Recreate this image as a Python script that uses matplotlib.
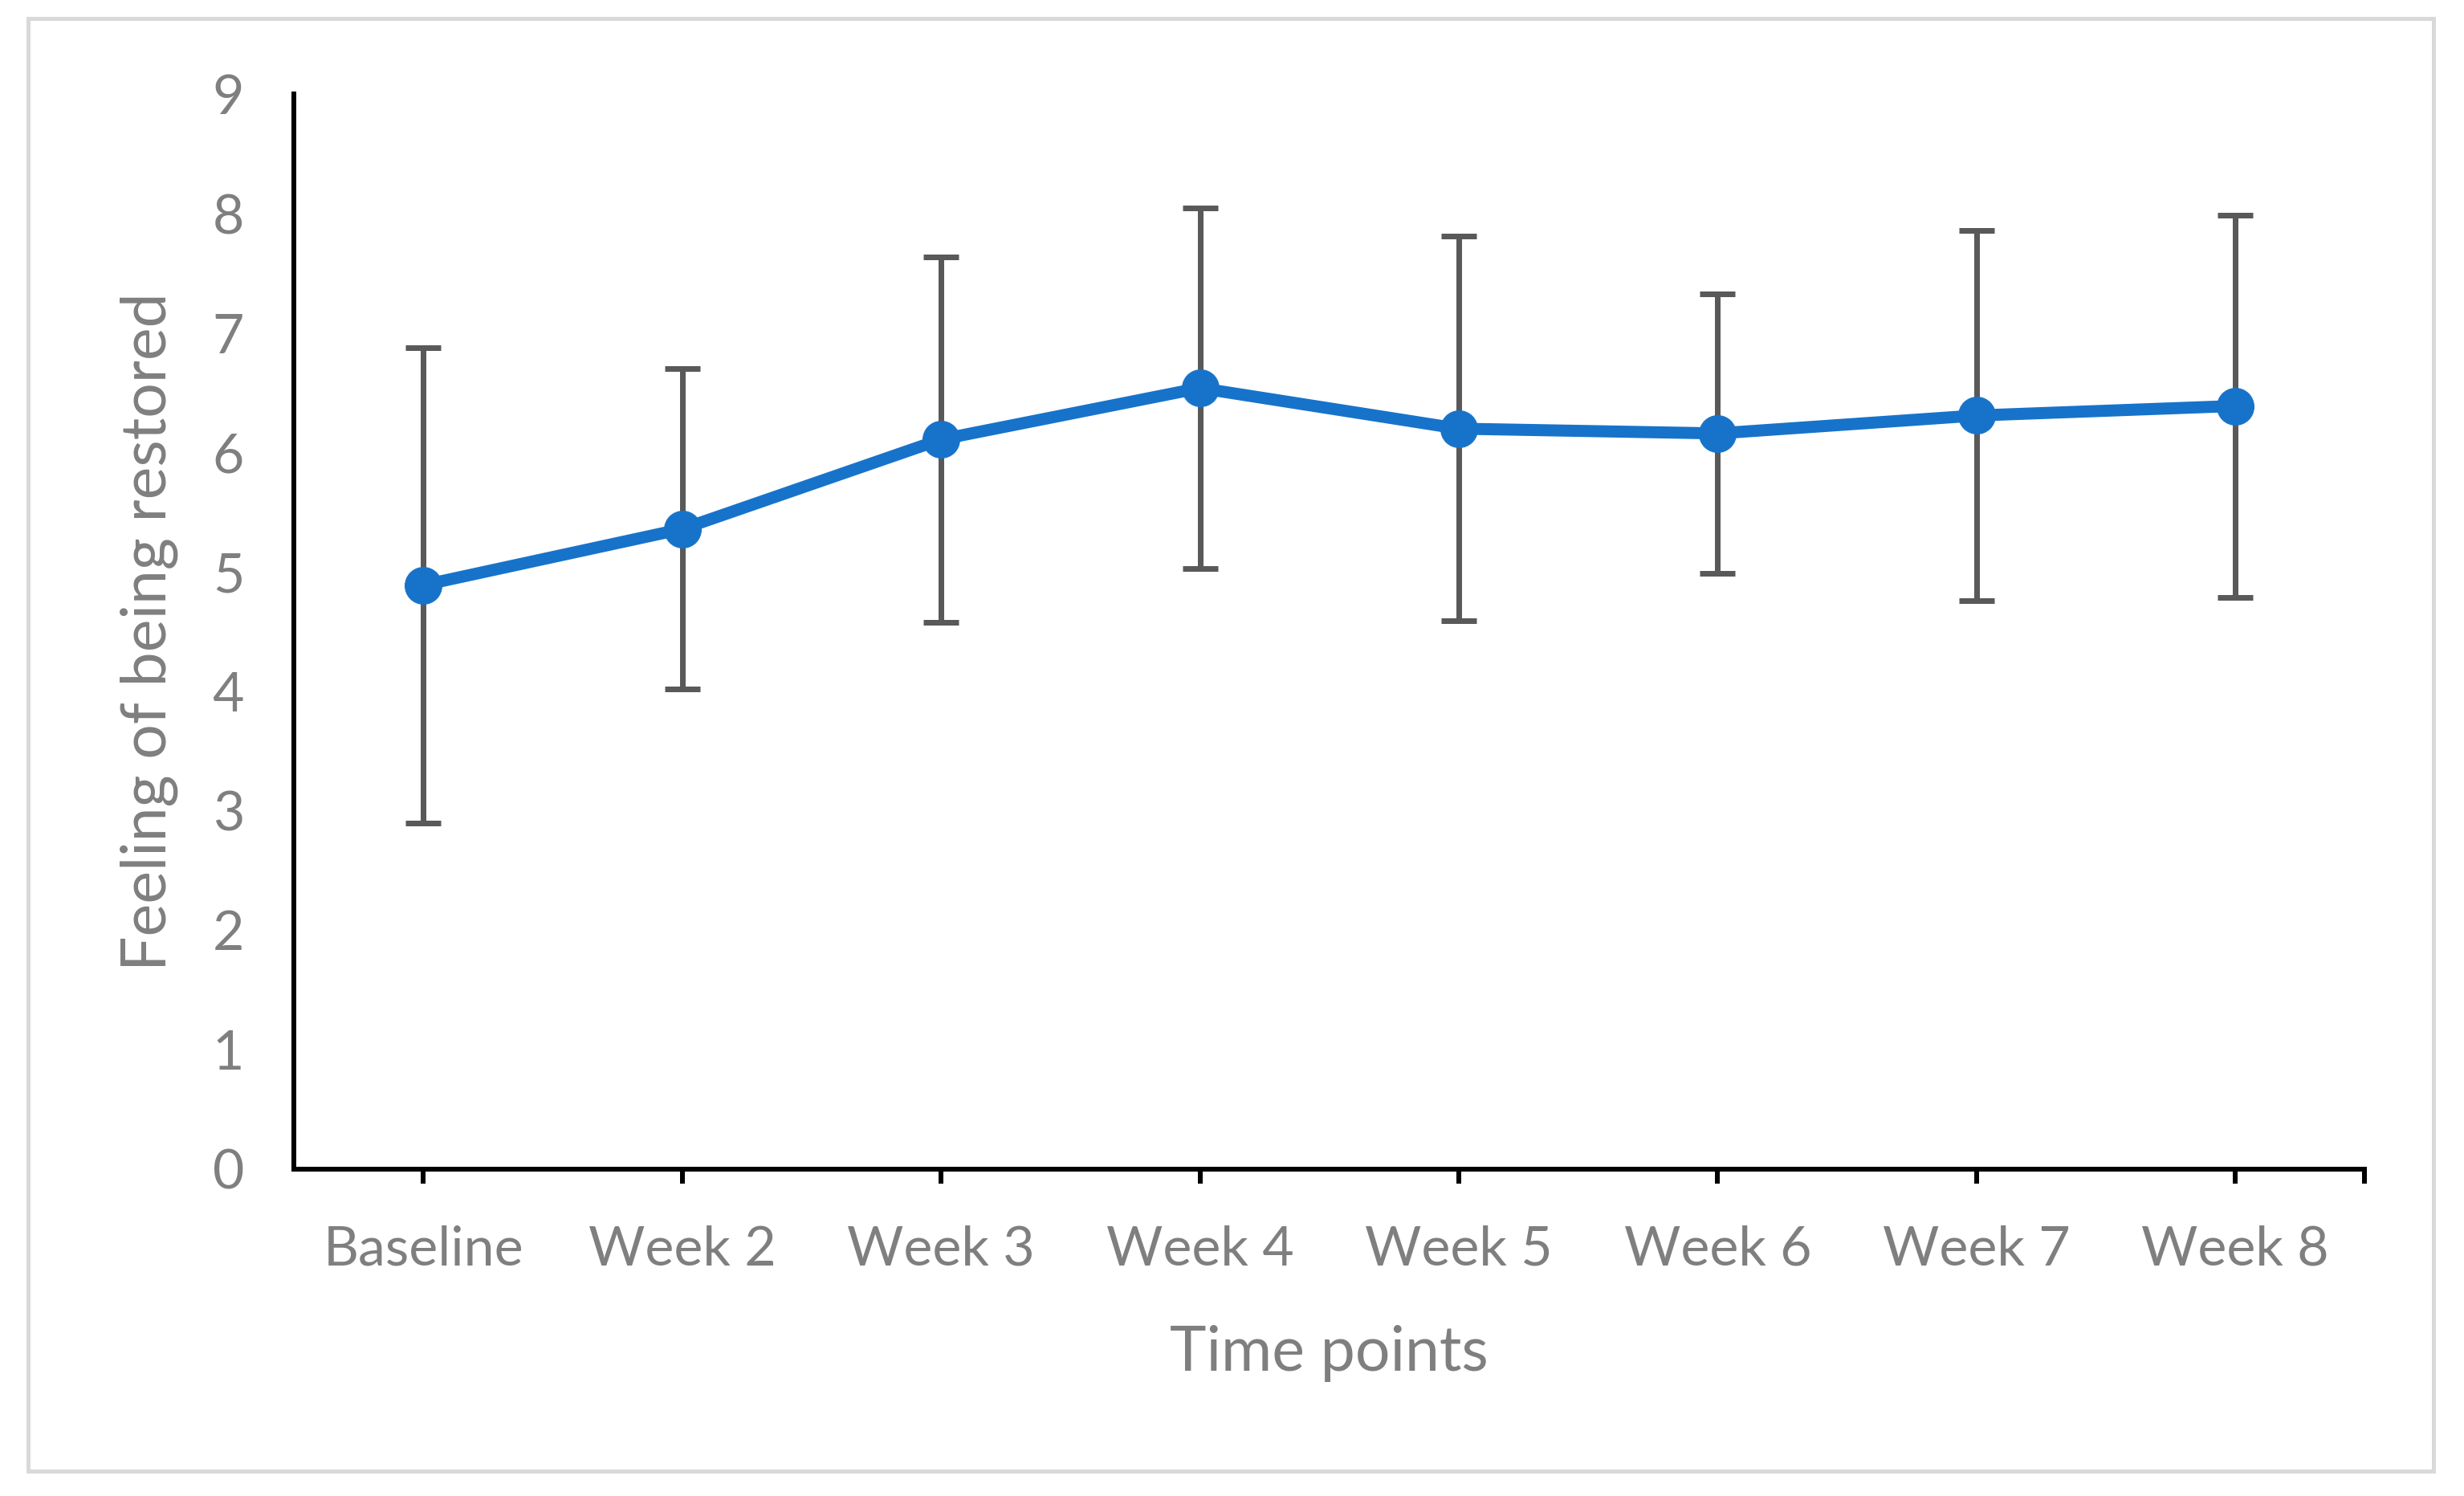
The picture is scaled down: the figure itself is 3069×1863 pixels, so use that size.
import numpy as np
import matplotlib
matplotlib.use('Agg')
import matplotlib.pyplot as plt
from matplotlib.patches import Rectangle

# data
time_points = ['Baseline', 'Week 2', 'Week 3', 'Week 4', 'Week 5', 'Week 6', 'Week 7', 'Week 8']
mean_score = [4.89, 5.36, 6.11, 6.54, 6.20, 6.16, 6.31, 6.39]
sd_score = [1.99, 1.34, 1.53, 1.51, 1.61, 1.17, 1.55, 1.60]
y_ticks = list(range(0, 10))

plt.rcParams['font.family'] = ['Lato', 'DejaVu Sans']

# dpi 72 so that points == pixels
fig = plt.figure(figsize=(3069 / 72, 1863 / 72), dpi=72)
ax = fig.add_axes([0.1193, 0.2185, 0.8404, 0.7185])

x = np.arange(len(time_points))
ax.errorbar(x, mean_score, yerr=sd_score, fmt='none', ecolor='#595959',
            elinewidth=7, capsize=22, capthick=7, zorder=2)
ax.plot(x, mean_score, color='#1773CA', linewidth=15, marker='o',
        markersize=46, zorder=3)

ax.set_xlim(-0.5, len(time_points) - 0.5)
ax.set_ylim(0, 9)
ax.set_yticks(y_ticks)
ax.set_xticks(x)
ax.set_xticklabels(time_points)
ax.set_xticks([len(time_points) - 0.5], minor=True)

for s in ['top', 'right']:
    ax.spines[s].set_visible(False)
for s in ['left', 'bottom']:
    ax.spines[s].set_linewidth(6)
    ax.spines[s].set_color('black')

ax.tick_params(axis='y', length=0, pad=62, labelsize=68, labelcolor='#7f7f7f')
ax.tick_params(axis='x', which='both', direction='out', length=18, width=6,
               color='black', pad=52, labelsize=68, labelcolor='#7f7f7f')

ax.set_xlabel('Time points', fontsize=77, color='#7f7f7f')
ax.xaxis.set_label_coords(0.5, -0.145)
ax.set_ylabel('Feeling of being restored', fontsize=77, color='#7f7f7f')
ax.yaxis.set_label_coords(-0.056, 0.5)

# light grey frame round the whole chart
fig.patches.append(Rectangle((35 / 3069, 1 - 1832 / 1863), (3031 - 35) / 3069,
                             (1832 - 23) / 1863, transform=fig.transFigure,
                             fill=False, edgecolor='#d9d9d9', linewidth=5))

fig.savefig('out.png', dpi=72, facecolor='white')
